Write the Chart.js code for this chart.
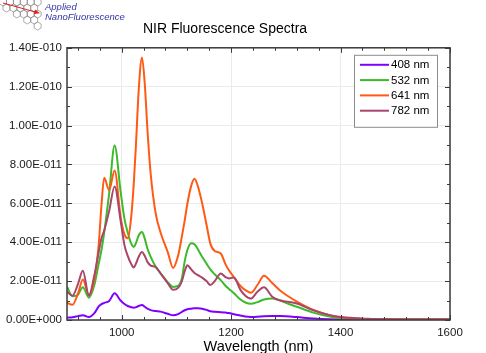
<!DOCTYPE html>
<html><head><meta charset="utf-8">
<script src="https://cdn.jsdelivr.net/npm/chart.js@4.4.0/dist/chart.umd.min.js"></script>
<style>html,body{margin:0;padding:0;background:#fff;overflow:hidden}#wrap{position:relative;width:486px;height:353px}</style>
</head><body><div id="wrap"><canvas id="c" width="486" height="353"></canvas></div>
<script>
// Wavelength grid (nm)
const wavelengths = [900,910,920,929,940,950,958,963,968,977,987,998,1005,1011,1017,1022,1026,1031,1037,1042,1047,1053,1062,1071,1084,1094,1103,1110,1115,1120,1127,1133,1140,1147,1155,1162,1170,1181,1190,1196,1205,1217,1226,1236,1248,1260,1275,1290,1300,1320,1350,1380,1400,1450,1500,1550,1600];
// Intensities in units of 1e-11
const s408 = [0.12,0.14,0.20,0.25,0.15,0.35,0.70,0.82,0.88,0.98,1.37,1.00,0.82,0.72,0.66,0.63,0.66,0.72,0.77,0.68,0.58,0.51,0.46,0.43,0.32,0.24,0.30,0.42,0.50,0.55,0.58,0.60,0.60,0.58,0.52,0.45,0.42,0.40,0.38,0.36,0.30,0.23,0.18,0.16,0.17,0.19,0.20,0.20,0.19,0.15,0.08,0.04,0.03,0.02,0.02,0.02,0.02];
const s532 = [1.71,1.22,1.30,1.68,1.15,1.80,2.90,3.60,4.50,6.50,8.97,6.60,5.20,4.50,3.95,3.76,3.95,4.35,4.53,4.20,3.68,3.25,2.75,2.40,1.95,1.70,1.75,2.15,3.00,3.60,3.95,3.90,3.60,3.25,2.90,2.60,2.35,2.05,1.75,1.60,1.38,1.05,0.90,0.83,0.92,1.05,1.10,1.00,0.88,0.68,0.38,0.18,0.10,0.04,0.02,0.02,0.02];
const s641 = [0.88,0.78,1.35,2.08,1.30,2.10,3.90,5.90,7.32,6.68,7.69,5.30,4.40,4.20,5.20,7.00,9.00,11.8,13.5,12.2,9.80,7.50,5.50,4.50,3.50,2.68,3.30,4.30,5.10,5.98,6.90,7.26,6.80,6.00,4.90,3.93,3.55,3.42,2.85,2.56,2.20,1.75,1.54,1.40,1.80,2.27,1.90,1.50,1.30,0.95,0.52,0.25,0.14,0.05,0.03,0.02,0.02];
const s782 = [1.45,1.25,1.85,2.53,1.25,2.30,3.50,4.20,4.60,5.60,6.87,5.10,3.85,3.30,2.90,2.70,2.90,3.25,3.50,3.30,2.99,2.80,2.72,2.40,1.90,1.55,1.65,2.00,2.50,2.82,2.60,2.42,2.30,2.18,2.00,1.80,2.00,2.39,2.20,2.14,2.19,1.55,1.25,1.10,1.45,1.68,1.20,1.00,0.95,0.85,0.50,0.25,0.15,0.06,0.03,0.02,0.02];
const seriesLabels = ['408 nm','532 nm','641 nm','782 nm'];
const seriesColors = ['#8000ff','#3cba2a','#ff5a14','#a8466c'];
const UNIT = 1e-11;
const xTicks = [1000,1200,1400,1600];
const xMinorTicks = [920,960,1040,1080,1120,1160,1240,1280,1320,1360,1440,1480,1520,1560];
const yTicks = [0,2,4,6,8,10,12,14];
const yMinorTicks = [1,3,5,7,9,11,13];

function sci(v){
  if (Math.abs(v) < 1e-30) return '0.00E+000';
  let e = Math.floor(Math.log10(Math.abs(v)) + 1e-9);
  let m = v / Math.pow(10, e);
  if (Math.round(m*100)/100 >= 10) { m /= 10; e++; }
  return m.toFixed(2) + 'E' + (e < 0 ? '-' : '+') + String(Math.abs(e)).padStart(3, '0');
}

const FONT = "'Liberation Sans', Arial, sans-serif";
const allSeries = [s408, s532, s641, s782];
const datasets = allSeries.map((s, i) => ({
  label: seriesLabels[i],
  data: wavelengths.map((w, j) => ({x: w, y: s[j] * UNIT})),
  borderColor: seriesColors[i],
  backgroundColor: seriesColors[i],
  borderWidth: 2,
  pointRadius: 0,
  fill: false,
  cubicInterpolationMode: 'monotone',
  order: 3 - i
}));

const framePlugin = {
  id: 'frame',
  afterDatasetsDraw(chart) {
    const ctx = chart.ctx;
    const {left, right, top, bottom} = chart.chartArea;
    const xs = chart.scales.x, ys = chart.scales.y;
    ctx.save();
    ctx.strokeStyle = '#3a3a3a';
    ctx.lineWidth = 1;
    const tick = (x1, y1, x2, y2) => { ctx.beginPath(); ctx.moveTo(x1, y1); ctx.lineTo(x2, y2); ctx.stroke(); };
    xTicks.forEach(v => { const x = Math.round(xs.getPixelForValue(v)) + 0.5; tick(x, bottom, x, bottom - 5); tick(x, top, x, top + 5); });
    xMinorTicks.forEach(v => { const x = Math.round(xs.getPixelForValue(v)) + 0.5; tick(x, bottom, x, bottom - 3); tick(x, top, x, top + 3); });
    yTicks.forEach(v => { const y = Math.round(ys.getPixelForValue(v * UNIT)) + 0.5; tick(left, y, left + 5, y); tick(right, y, right - 5, y); });
    yMinorTicks.forEach(v => { const y = Math.round(ys.getPixelForValue(v * UNIT)) + 0.5; tick(left, y, left + 3, y); tick(right, y, right - 3, y); });
    ctx.lineWidth = 1.5;
    ctx.strokeRect(left, top, right - left, bottom - top);
    // legend box
    const bx = right - 96, by = top + 7, bw = 83, bh = 72;
    ctx.fillStyle = '#fff';
    ctx.fillRect(bx, by, bw, bh);
    ctx.lineWidth = 1;
    ctx.strokeStyle = '#8c8c8c';
    ctx.strokeRect(bx + 0.5, by + 0.5, bw, bh);
    ctx.font = "11.5px " + FONT;
    ctx.textBaseline = 'middle';
    ctx.textAlign = 'left';
    chart.data.datasets.forEach((d, i) => {
      const y = by + 10 + i * 15.3;
      ctx.strokeStyle = d.borderColor;
      ctx.lineWidth = 2;
      tick(bx + 6, y, bx + 35, y);
      ctx.fillStyle = '#000';
      ctx.fillText(d.label, bx + 37, y + 0.5);
    });
    ctx.restore();
  },
  afterDraw(chart) {
    const ctx = chart.ctx;
    ctx.save();
    // honeycomb logo
    const R = 4, w = R * Math.sqrt(3);
    ctx.strokeStyle = '#8a8a8a';
    ctx.lineWidth = 0.7;
    const kmin = [0, 0, 1, 2, 3];
    for (let r = 0; r < 5; r++) {
      const cy = 2 + r * 6;
      for (let k = kmin[r]; ; k++) {
        const cx = 3 + r * w / 2 + k * w;
        if (cx > 41) break;
        ctx.beginPath();
        for (let a = 0; a < 6; a++) {
          const ang = Math.PI / 180 * (60 * a - 90);
          const px = cx + R * Math.cos(ang), py = cy + R * Math.sin(ang);
          if (a === 0) ctx.moveTo(px, py); else ctx.lineTo(px, py);
        }
        ctx.closePath();
        ctx.stroke();
      }
    }
    ctx.strokeStyle = '#e02020';
    ctx.fillStyle = '#e02020';
    ctx.lineWidth = 1;
    ctx.beginPath(); ctx.moveTo(3, 3); ctx.lineTo(37, 12.5); ctx.stroke();
    ctx.beginPath(); ctx.moveTo(40, 13.3); ctx.lineTo(35, 9.6); ctx.lineTo(33.8, 14); ctx.closePath(); ctx.fill();
    ctx.fillStyle = '#3535a5';
    ctx.font = "italic 9.5px " + FONT;
    ctx.textBaseline = 'middle';
    ctx.textAlign = 'left';
    ctx.fillText('Applied', 45, 7);
    ctx.fillText('NanoFluorescence', 45, 17.5);
    ctx.restore();
  }
};

new Chart(document.getElementById('c'), {
  type: 'line',
  data: {datasets},
  options: {
    responsive: false,
    animation: false,
    devicePixelRatio: 1,
    layout: {padding: {left: 0, right: 36, top: 0, bottom: 0}},
    plugins: {
      legend: {display: false},
      tooltip: {enabled: false},
      title: {
        display: true,
        text: 'NIR Fluorescence Spectra',
        color: '#000',
        font: {family: FONT, size: 14, weight: 'normal'},
        padding: {top: 21, bottom: 10}
      }
    },
    scales: {
      x: {
        type: 'linear', min: 900, max: 1600,
        afterBuildTicks: s => { s.ticks = xTicks.map(v => ({value: v})); },
        afterFit: s => { s.height = 33; },
        grid: {color: '#ebebeb', drawTicks: false},
        border: {display: false},
        ticks: {padding: 6, autoSkip: false, maxRotation: 0, color: '#1a1a1a', font: {family: FONT, size: 11.5}, callback: v => String(v)},
        title: {display: true, text: 'Wavelength (nm)', color: '#000', font: {family: FONT, size: 14.5}, padding: {top: 0, bottom: -3}}
      },
      y: {
        min: 0, max: 14 * UNIT,
        afterBuildTicks: s => { s.ticks = yTicks.map(v => ({value: v * UNIT})); },
        afterFit: s => { s.width = 67; },
        grid: {color: '#ebebeb', drawTicks: false},
        border: {display: false},
        ticks: {padding: 5, autoSkip: false, color: '#1a1a1a', font: {family: FONT, size: 11.5}, callback: v => sci(v)}
      }
    }
  },
  plugins: [framePlugin]
});
</script>
</body></html>
